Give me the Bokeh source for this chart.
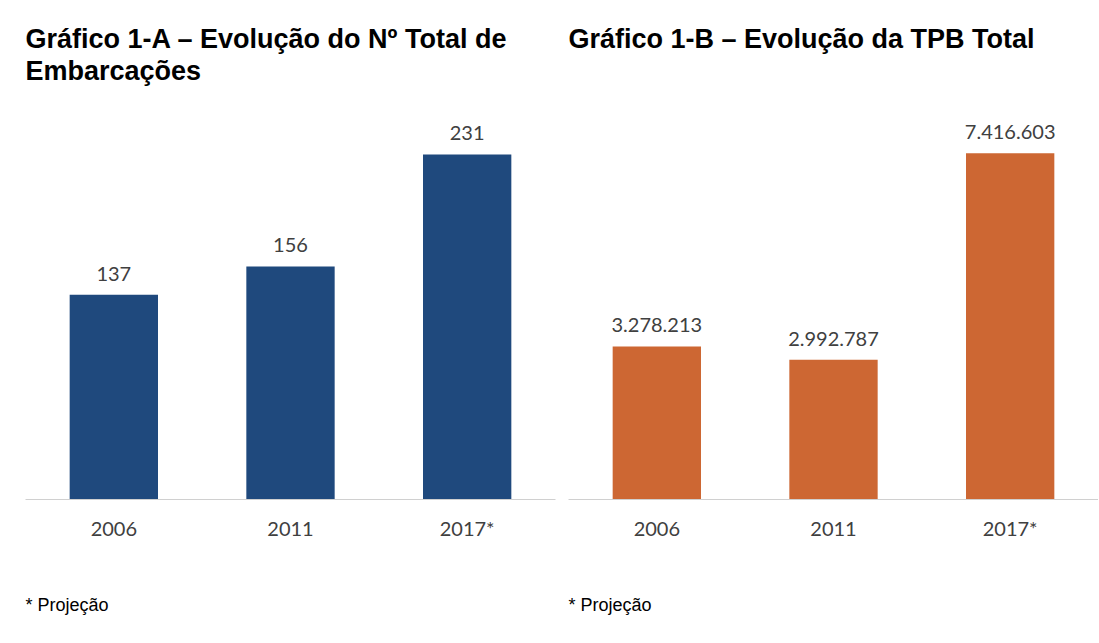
from bokeh.plotting import figure
from bokeh.models import Range1d, FactorRange, Title, ColumnDataSource, LabelSet
from bokeh.layouts import row
from bokeh.embed import file_html
from bokeh.resources import INLINE
from bokeh.core.properties import value

# ---- data ----
categories = ["2006", "2011", "2017*"]
embarcacoes = [137, 156, 231]
tpb_total = [3278213, 2992787, 7416603]

title_a_line1 = "Gráfico 1-A – Evolução do Nº Total de"
title_a_line2 = "Embarcações"
title_b = "Gráfico 1-B – Evolução da TPB Total"
footnote = "* Projeção"

BLUE = "#1F497D"
ORANGE = "#CD6733"
LABEL_COLOR = "#404040"
NUM_FONT = "Lato"
TITLE_FONT = "Liberation Sans"


def fmt(v):
    return f"{v:,}".replace(",", ".")


def make_title(text, standoff):
    return Title(text=text, align="left", standoff=standoff,
                 text_font=TITLE_FONT, text_font_style="bold",
                 text_font_size="27px", text_line_height=0.94, text_color="black")


def spacer(standoff):
    return Title(text=" ", align="left", standoff=standoff,
                 text_font=TITLE_FONT, text_font_size="1px", text_color="white")


def make_panel(values, color, y_end, width, border_left, border_right, lines):
    p = figure(
        x_range=FactorRange(*categories, start=0, end=3.0),
        y_range=Range1d(0, y_end),
        width=width, height=640,
        output_backend="svg", toolbar_location=None,
        y_axis_location=None,
        min_border_left=border_left, min_border_right=border_right,
        min_border_top=110, min_border_bottom=141,
    )
    p.title.visible = False
    p.outline_line_color = None
    p.xgrid.grid_line_color = None
    p.ygrid.grid_line_color = None
    p.background_fill_color = "white"
    p.border_fill_color = "white"

    src = ColumnDataSource(dict(cat=categories, val=values, lab=[fmt(v) for v in values]))
    p.vbar(x="cat", top="val", bottom=0, width=0.5, source=src,
           fill_color=color, line_color=None)
    p.add_layout(LabelSet(x="cat", y="val", text="lab", source=src,
                          text_align="center", text_baseline="alphabetic", y_offset=14,
                          text_font=value(NUM_FONT), text_font_size=value("20px"),
                          text_color=LABEL_COLOR))

    ax = p.xaxis[0]
    ax.axis_line_color = "#D0D0D0"
    ax.axis_line_width = 1
    ax.major_tick_line_color = None
    ax.minor_tick_line_color = None
    ax.major_tick_in = 0
    ax.major_tick_out = 0
    ax.major_label_standoff = 16
    ax.major_label_text_font = NUM_FONT
    ax.major_label_text_font_size = "20px"
    ax.major_label_text_color = LABEL_COLOR

    # title block: spacer next to the frame, then line 2, then line 1 on top
    p.add_layout(spacer(21.5), "above")
    for t in reversed(lines):
        p.add_layout(make_title(t, 0), "above")

    # footnote below the axis
    p.add_layout(spacer(47), "below")
    p.add_layout(Title(text=footnote, align="left", standoff=0,
                       text_font=TITLE_FONT, text_font_style="normal",
                       text_font_size="18px", text_color="black"), "below")
    return p


pa = make_panel(embarcacoes, BLUE, 260.4, 563, 25, 8, [title_a_line1, title_a_line2])
pb = make_panel(tpb_total, ORANGE, 8.33e6, 535, 5, 0, [title_b, " "])

layout = row(pa, pb)
open("out.html", "w").write(file_html(layout, INLINE))
